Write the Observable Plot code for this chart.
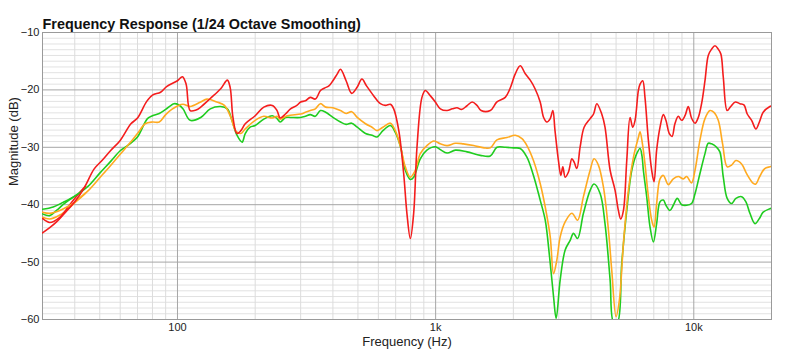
<!DOCTYPE html>
<html>
<head>
<meta charset="utf-8">
<script src="https://cdn.jsdelivr.net/npm/d3@7"></script>
<script src="https://cdn.jsdelivr.net/npm/@observablehq/plot@0.6"></script>
<style>
  html, body { margin: 0; padding: 0; background: #fff; }
  #chart { width: 800px; height: 355px; }
</style>
</head>
<body>
<div id="chart"></div>
<script>
// ---- Text ----
const title = "Frequency Response (1/24 Octave Smoothing)";
const xLabel = "Frequency (Hz)";
const yLabel = "Magnitude (dB)";

// ---- Axes ----
const xDomain = [30, 20000];
const yDomain = [-60, -10];
const xTicks = [100, 1000, 10000];
const xTickLabels = ["100", "1k", "10k"];
const yTicks = [-60, -50, -40, -30, -20, -10];
const xMinor = [40, 50, 60, 70, 80, 90, 200, 300, 400, 500, 600, 700, 800, 900,
                2000, 3000, 4000, 5000, 6000, 7000, 8000, 9000];
const yMinor = [-59,-58,-57,-56,-55,-54,-53,-52,-51,-49,-48,-47,-46,-45,-44,-43,-42,-41,
                -39,-38,-37,-36,-35,-34,-33,-32,-31,-29,-28,-27,-26,-25,-24,-23,-22,-21,
                -19,-18,-17,-16,-15,-14,-13,-12,-11];

// ---- Series: [frequency Hz, magnitude dB] ----
const red = [[30,-44.9],[32,-44.0],[34,-43.0],[37,-41.2],[40,-39.5],[43.6,-37.0],[47.5,-33.8],[51,-32.3],[55,-30.6],[60,-28.8],[66,-25.9],[70,-24.9],[76,-22.0],[80,-20.9],[86,-20.4],[91,-19.4],[100,-18.4],[104.5,-17.7],[108,-19.0],[112,-23.6],[118,-23.5],[123,-23.0],[134,-21.5],[147,-19.8],[156,-18.3],[160,-19.6],[164,-24.8],[170,-27.6],[176,-27.1],[183,-25.9],[200,-24.5],[216,-23.0],[233,-22.7],[243,-23.6],[250,-24.9],[262,-24.2],[274,-23.3],[290,-22.7],[300,-22.1],[313,-21.9],[327,-21.3],[342,-21.6],[358,-20.1],[370,-19.7],[386,-19.3],[400,-18.4],[416,-17.2],[428,-16.4],[450,-18.4],[473,-20.6],[497,-19.5],[518,-18.1],[540,-19.3],[575,-21.0],[611,-22.4],[639,-22.7],[668,-22.5],[688,-23.3],[720,-27.1],[752,-34.6],[774,-41.5],[798,-45.9],[822,-41.5],[847,-29.9],[885,-21.3],[912,-20.1],[953,-21.0],[997,-22.1],[1043,-23.3],[1107,-23.6],[1160,-23.3],[1210,-23.1],[1260,-23.4],[1320,-22.8],[1385,-22.1],[1446,-22.7],[1500,-23.6],[1628,-23.6],[1728,-22.1],[1861,-21.3],[1940,-19.8],[2035,-17.2],[2127,-15.8],[2225,-17.2],[2325,-18.3],[2427,-19.8],[2541,-22.1],[2620,-24.8],[2698,-25.6],[2779,-25.0],[2845,-23.6],[2900,-27.1],[2990,-32.3],[3055,-34.9],[3110,-33.4],[3175,-35.2],[3270,-34.3],[3371,-32.0],[3440,-32.6],[3524,-33.7],[3630,-29.9],[3760,-26.5],[3967,-25.0],[4090,-24.2],[4211,-22.4],[4400,-24.2],[4530,-26.5],[4741,-34.0],[4956,-37.5],[5104,-41.0],[5212,-42.5],[5340,-41.0],[5500,-32.3],[5665,-24.8],[5800,-26.5],[5923,-25.3],[6100,-20.1],[6193,-19.0],[6340,-18.4],[6470,-21.3],[6670,-28.8],[6870,-34.0],[7015,-36.0],[7180,-30.5],[7400,-26.5],[7621,-24.3],[7800,-25.3],[8040,-27.6],[8240,-28.1],[8450,-25.9],[8710,-24.6],[8975,-25.3],[9245,-24.5],[9520,-22.9],[9800,-24.9],[10110,-25.8],[10410,-24.8],[10720,-22.4],[11050,-18.4],[11380,-14.0],[11720,-12.9],[12080,-12.3],[12440,-12.9],[12740,-13.8],[13010,-17.8],[13470,-23.6],[13900,-22.9],[14480,-22.1],[15090,-22.4],[15640,-22.6],[16110,-24.2],[16750,-25.3],[17400,-26.8],[17950,-25.6],[18570,-23.9],[19710,-22.9],[20000,-22.8]];
const red2 = [[30,-42.4],[32,-43.1],[35,-42.2],[38,-40.2],[41,-38.3],[44,-36.8]];

const orange = [[30,-41.3],[32,-41.5],[35,-41.0],[38,-40.2],[40,-39.6],[45,-37.6],[50,-35.3],[55,-33.2],[60,-31.2],[65,-29.4],[70,-27.6],[75,-25.9],[80,-25.6],[85,-25.6],[90,-24.3],[95,-23.4],[100,-22.8],[105,-22.5],[112,-22.9],[123,-22.1],[130,-21.6],[142,-22.1],[152,-22.7],[161,-24.8],[168,-27.1],[176,-27.6],[183,-26.8],[200,-25.3],[216,-24.6],[233,-24.9],[243,-24.6],[250,-25.1],[266,-24.5],[300,-24.2],[313,-23.9],[327,-23.6],[342,-23.3],[358,-22.4],[375,-23.0],[400,-23.1],[428,-23.6],[450,-24.1],[473,-23.8],[497,-24.8],[535,-25.9],[567,-26.5],[593,-27.1],[625,-26.5],[668,-25.8],[698,-27.1],[731,-29.9],[763,-33.4],[798,-35.2],[834,-34.0],[872,-31.1],[925,-29.7],[985,-28.9],[1043,-29.4],[1107,-29.7],[1193,-29.3],[1280,-29.4],[1404,-29.7],[1540,-30.1],[1628,-30.1],[1728,-28.7],[1890,-28.3],[2035,-27.9],[2160,-28.5],[2257,-29.7],[2393,-32.3],[2541,-36.3],[2658,-40.4],[2779,-45.6],[2862,-52.0],[2949,-49.6],[3037,-45.6],[3175,-43.0],[3371,-41.5],[3545,-42.7],[3737,-38.6],[3967,-34.0],[4110,-32.0],[4270,-33.1],[4466,-36.9],[4670,-44.4],[4810,-51.4],[5000,-59.5],[5150,-56.6],[5340,-46.7],[5580,-37.5],[5840,-31.7],[6100,-28.3],[6193,-27.3],[6330,-29.5],[6470,-32.9],[6670,-38.6],[6870,-42.7],[7015,-43.9],[7180,-39.8],[7400,-35.5],[7621,-34.9],[7967,-36.5],[8330,-35.5],[8710,-35.1],[9110,-35.5],[9385,-35.1],[9800,-36.2],[10110,-34.0],[10560,-28.8],[11050,-25.0],[11550,-23.6],[11970,-23.9],[12440,-25.3],[12930,-29.4],[13470,-33.4],[14010,-33.1],[14560,-32.3],[15320,-32.9],[16020,-34.6],[17010,-36.3],[17400,-36.4],[17950,-35.2],[18830,-33.7],[19710,-33.4],[20000,-33.3]];
const orange2 = [[30,-42.2],[32,-42.5],[35,-41.8],[38,-40.6],[41,-39.2],[44,-38.0]];

const green = [[30,-40.8],[33,-40.4],[36,-39.6],[40,-38.5],[45,-36.8],[50,-34.5],[55,-32.5],[60,-30.6],[65,-29.5],[70,-28.2],[76.5,-25.0],[80,-24.5],[85,-24.1],[90,-23.4],[97,-22.4],[101,-22.6],[105,-23.3],[112,-25.3],[123,-24.8],[134,-23.3],[147,-22.9],[156,-23.3],[162,-25.1],[170,-27.9],[178,-29.1],[183,-27.6],[191,-26.5],[200,-26.2],[216,-25.1],[233,-24.5],[243,-25.0],[250,-25.6],[262,-24.8],[274,-24.8],[300,-24.8],[313,-24.6],[327,-24.3],[342,-24.6],[358,-23.6],[375,-23.9],[400,-24.8],[428,-25.6],[450,-26.0],[473,-25.8],[497,-26.5],[535,-27.6],[567,-27.9],[593,-28.2],[625,-27.1],[668,-26.2],[698,-27.4],[731,-29.9],[763,-34.0],[798,-35.6],[822,-35.2],[872,-32.0],[925,-30.5],[997,-29.9],[1043,-30.4],[1107,-31.0],[1193,-30.5],[1323,-30.8],[1490,-31.4],[1628,-31.5],[1728,-30.0],[1861,-30.0],[2003,-30.1],[2127,-30.2],[2257,-31.7],[2393,-34.9],[2541,-39.2],[2658,-42.7],[2763,-49.1],[2862,-56.0],[2930,-59.8],[3037,-53.1],[3175,-47.9],[3320,-46.2],[3420,-45.0],[3545,-45.9],[3737,-41.5],[3967,-37.5],[4110,-36.4],[4340,-38.1],[4530,-43.3],[4741,-53.1],[4890,-60.5],[5060,-60.5],[5260,-50.2],[5500,-41.0],[5751,-34.0],[6010,-31.1],[6193,-30.2],[6300,-31.5],[6378,-34.0],[6570,-38.6],[6770,-43.9],[6973,-46.5],[7180,-43.3],[7400,-39.5],[7621,-39.2],[7800,-40.1],[8080,-41.0],[8330,-40.1],[8630,-38.9],[8975,-40.0],[9385,-40.1],[9800,-39.8],[10110,-38.1],[10560,-34.6],[11050,-31.1],[11380,-29.3],[11720,-29.4],[12260,-30.0],[12620,-30.8],[13010,-35.2],[13470,-38.9],[14010,-39.8],[14560,-38.9],[15320,-38.6],[15920,-39.5],[16500,-41.5],[17250,-43.3],[17950,-42.4],[18570,-41.3],[19710,-40.7],[20000,-40.6]];
const green2 = [[30,-41.6],[32,-41.9],[34,-41.0],[36,-40.0],[38,-39.2],[41,-38.2]];

const colors = { red: "#f41d1d", orange: "#ffaa20", green: "#1fcc1f" };

const font = "'Liberation Sans', Arial, Helvetica, sans-serif";
const lineOpts = (color) => ({ x: d => d[0], y: d => d[1], stroke: color, strokeWidth: 1.6, curve: "catmull-rom", clip: true });

const chart = Plot.plot({
  width: 800,
  height: 355,
  marginLeft: 42,
  marginRight: 29,
  marginTop: 32,
  marginBottom: 36,
  style: { fontFamily: font, fontSize: "11px", color: "#222", background: "#fff", overflow: "visible" },
  x: { type: "log", domain: xDomain, ticks: xTicks, tickFormat: d => xTickLabels[xTicks.indexOf(d)], tickSize: 0, tickPadding: 4, label: null },
  y: { domain: yDomain, ticks: yTicks, tickSize: 0, tickPadding: 3, label: null },
  marks: [
    Plot.ruleY(yMinor, { stroke: "#e2e2e2", strokeWidth: 1 }),
    Plot.ruleX(xMinor, { stroke: "#dcdcdc", strokeWidth: 1 }),
    Plot.ruleY(yTicks, { stroke: "#a6a6a6", strokeWidth: 1 }),
    Plot.ruleX(xTicks, { stroke: "#a6a6a6", strokeWidth: 1 }),
    Plot.frame({ stroke: "#9a9a9a" }),
    Plot.line(green2, lineOpts(colors.green)),
    Plot.line(orange2, lineOpts(colors.orange)),
    Plot.line(red2, lineOpts(colors.red)),
    Plot.line(green, lineOpts(colors.green)),
    Plot.line(orange, lineOpts(colors.orange)),
    Plot.line(red, lineOpts(colors.red)),
    Plot.text([title], { frameAnchor: "top-left", textAnchor: "start", lineAnchor: "bottom", dy: -4, fontSize: 14.4, fontWeight: "bold", fill: "#111" }),
    Plot.text([xLabel], { frameAnchor: "bottom", lineAnchor: "middle", dy: 22, fontSize: 13, fill: "#222" }),
    Plot.text([yLabel], { frameAnchor: "left", lineAnchor: "middle", rotate: -90, dx: -29, dy: 10, fontSize: 13, fill: "#222" })
  ]
});
document.getElementById("chart").appendChild(chart);
</script>
</body>
</html>
